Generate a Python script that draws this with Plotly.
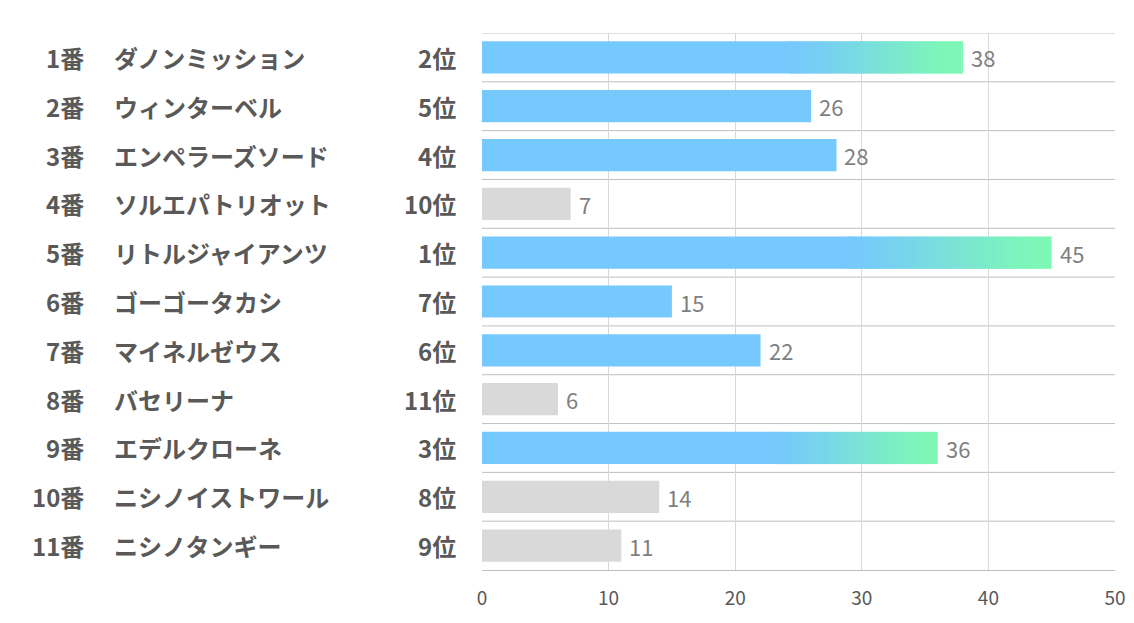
import plotly.graph_objects as go

numbers = ["1番", "2番", "3番", "4番", "5番", "6番", "7番", "8番", "9番", "10番", "11番"]
names = ["ダノンミッション", "ウィンターベル", "エンペラーズソード", "ソルエパトリオット",
         "リトルジャイアンツ", "ゴーゴータカシ", "マイネルゼウス", "バセリーナ",
         "エデルクローネ", "ニシノイストワール", "ニシノタンギー"]
ranks = [2, 5, 4, 10, 1, 7, 6, 11, 3, 8, 9]
values = [38, 26, 28, 7, 45, 15, 22, 6, 36, 14, 11]
x_ticks = [0, 10, 20, 30, 40, 50]

BLUE = (118, 201, 252)
GREEN = (126, 249, 180)
GRAY = "#D9D9D9"
FONT = "Noto Sans CJK JP"

def rgb(c):
    return "rgb(%d,%d,%d)" % tuple(round(x) for x in c)

# top-3 bars are painted by the gradient trace; base bar transparent for them
base_colors = []
for r in ranks:
    if r <= 3:
        base_colors.append("rgba(0,0,0,0)")
    elif r <= 7:
        base_colors.append(rgb(BLUE))
    else:
        base_colors.append(GRAY)

fig = go.Figure()
fig.add_trace(go.Bar(
    y=names, x=values, orientation="h", marker=dict(color=base_colors, line=dict(width=0)),
    width=0.66, hoverinfo="skip",
))

# gradient fill for top-3 bars (styling only)
N = 60
start = 0.64
gy, gb, gx, gc = [], [], [], []
for nm, v, r in zip(names, values, ranks):
    if r <= 3:
        gy.append(nm)
        gb.append(0)
        gx.append(v * start * 1.01)
        gc.append(rgb(BLUE))
        for k in range(N):
            f0 = start + (1 - start) * k / N
            f1 = start + (1 - start) * (k + 1) / N
            t = (k + 0.5) / N
            t = t * t * (3 - 2 * t) * 0.5 + t * 0.5
            c = tuple(BLUE[i] + (GREEN[i] - BLUE[i]) * t for i in range(3))
            gy.append(nm)
            gb.append(v * f0)
            gx.append(v * (f1 - f0) * (1.6 if k < N - 1 else 1.0))
            gc.append(rgb(c))
fig.add_trace(go.Bar(
    y=gy, x=gx, base=gb, orientation="h", width=0.66,
    marker=dict(color=gc, line=dict(width=0)), hoverinfo="skip",
))

OFF = 8  # page body offset
L, R, T, B = 482 - OFF, 1115 - OFF, 33 - OFF, 570 - OFF
W = R - L
def px(p):
    return (p - OFF - L) / W

annotations = []
lab_font = dict(family=FONT, size=24, color="#595959", weight="bold")
for num, nm, r, v in zip(numbers, names, ranks, values):
    annotations.append(dict(x=px(86), y=nm, xref="paper", yref="y", text=num, showarrow=False,
                            xanchor="right", font=lab_font))
    annotations.append(dict(x=px(112), y=nm, xref="paper", yref="y", text=nm, showarrow=False,
                            xanchor="left", font=lab_font))
    annotations.append(dict(x=px(458), y=nm, xref="paper", yref="y", text="%d位" % r, showarrow=False,
                            xanchor="right", font=lab_font))
    annotations.append(dict(x=v, y=nm, xref="x", yref="y", text=str(v), showarrow=False,
                            xanchor="left", xshift=6,
                            font=dict(family=FONT, size=22, color="#7F7F7F")))

shapes = []
for i in range(len(names)):
    shapes.append(dict(type="line", xref="paper", yref="y", x0=0, x1=1, y0=i - 0.5, y1=i - 0.5,
                       line=dict(color="#BFBFBF", width=1), layer="below"))

fig.update_layout(
    width=1134, height=623, margin=dict(l=L, r=1134 - R, t=T, b=623 - B),
    barmode="overlay", showlegend=False, plot_bgcolor="white", paper_bgcolor="white",
    annotations=annotations, shapes=shapes,
    xaxis=dict(range=[0, 50], tickvals=x_ticks, showgrid=True, gridcolor="#D9D9D9", gridwidth=1,
               zeroline=False, showline=True, linecolor="#BFBFBF", linewidth=1,
               tickfont=dict(family=FONT, size=19, color="#595959"), ticks="", ticklabelstandoff=11),
    yaxis=dict(categoryorder="array", categoryarray=names, range=[len(names) - 0.5, -0.5],
               showticklabels=False, showgrid=False, zeroline=False),
)

fig.write_html("out.html")
